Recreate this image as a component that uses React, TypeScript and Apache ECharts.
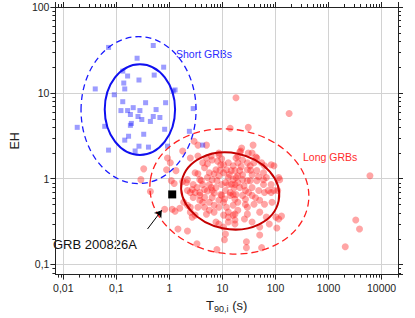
import React, { useEffect, useRef } from "react";
import * as echarts from "echarts";

// Tick labels (decimal comma, as in the reference)
const xTickLabels = ["0,01", "0,1", "1", "10", "100", "1000", "10000"]; // 10^-2 .. 10^4
const yTickLabels = ["0,1", "1", "10", "100"]; // 10^-1 .. 10^2

// Axis ranges (log axes)
const X_MIN = 0.0071;
const X_MAX = 20400;
const Y_MIN = 0.0762;
const Y_MAX = 100;

// Short GRBs: [T90,i (s), EH]
const shortGRBs: number[][] = [
  [0.0713, 33.8], [0.496, 35.6], [0.246, 25.3], [0.78, 19.9], [0.132, 17.9],
  [0.163, 15.7], [0.267, 14.1], [0.517, 16.1], [0.138, 13.0], [0.144, 11.1],
  [0.04, 11.1], [1.28, 10.8], [1.18, 10.5], [0.0914, 9.5], [0.132, 7.88],
  [0.356, 7.67], [0.848, 7.67], [0.208, 6.72], [0.122, 6.21], [0.163, 6.21],
  [0.278, 6.21], [0.561, 6.38], [0.184, 5.59], [0.256, 5.3], [0.496, 5.3],
  [0.662, 5.16], [0.302, 4.89], [0.438, 4.64], [0.192, 4.4], [0.184, 4.18],
  [2.81, 6.55], [0.0183, 3.96], [0.0604, 4.07], [0.814, 3.76], [2.38, 3.56],
  [0.328, 3.29], [0.17, 3.12], [0.144, 2.81], [0.267, 2.39], [0.403, 2.33],
  [0.0713, 2.15], [0.226, 2.1], [0.92, 2.39], [4.24, 2.46],
];

// Long GRBs: [T90,i (s), EH]
const longGRBs: number[][] = [
  [18.0, 8.76], [181, 5.74], [14.0, 3.86], [30.7, 3.96], [23.0, 2.27], [37.8, 2.46], [21.2, 2.04], [30.7, 1.99], [42.7, 1.79], [8.55, 1.99],
  [2.92, 2.73], [3.45, 2.46], [5.0, 2.46], [1.78, 2.1], [0.921, 1.74], [1.04, 1.53], [0.328, 1.3], [0.884, 1.27], [1.33, 1.24], [0.29, 0.974],
  [1.086, 0.948], [1.78, 0.924], [0.438, 0.709], [0.814, 0.44], [1.13, 0.44], [1.28, 0.418], [1.57, 0.452], [2.19, 0.49], [1.45, 0.259], [2.19, 0.246],
  [3.31, 0.174], [1.23, 0.877], [2.1, 0.9], [6040, 1.08], [3260, 0.329], [3840, 0.259], [2066, 0.161], [130, 0.366], [115, 0.338], [106, 0.266],
  [50.4, 0.221], [28.3, 0.184], [28.3, 0.157], [54.7, 0.157], [10.9, 0.194], [7.87, 0.149], [11.4, 0.227], [50.4, 0.273], [76.2, 0.296], [82.7, 1.45],
  [93.6, 1.41], [115, 1.03], [120, 0.974], [110, 0.728],
  [6.15, 1.84], [6.4, 1.65], [5.21, 1.49], [9.68, 1.7], [9.29, 1.45], [7.55, 1.27], [11.9, 1.27], [14.6, 1.24], [12.9, 1.03], [15.9, 0.974],
  [17.2, 0.853], [11.4, 0.9], [9.68, 0.853], [7.87, 0.948], [6.4, 0.974], [5.21, 1.03], [3.45, 1.14], [3.05, 1.17], [3.74, 0.974], [2.81, 0.853],
  [4.24, 0.853], [4.6, 0.748], [3.74, 0.69], [3.05, 0.69], [2.48, 0.69], [2.19, 0.728], [6.4, 0.728], [7.55, 0.788], [11.4, 0.728], [14.0, 0.69],
  [15.9, 0.655], [9.29, 0.655], [6.15, 0.788], [18.0, 1.74], [8.55, 1.89],
  [36.2, 1.99], [19.5, 1.82], [24.0, 1.65], [39.4, 1.53], [62.0, 1.41], [33.4, 1.41], [29.5, 1.27], [21.2, 1.24], [17.2, 1.24], [44.5, 1.24],
  [59.4, 1.17], [36.2, 1.11], [67.3, 1.03], [24.0, 0.974], [18.0, 1.03], [29.5, 0.948], [44.5, 0.948], [59.4, 0.853], [82.7, 0.853], [36.2, 0.788],
  [21.2, 0.788], [27.2, 0.728], [48.4, 0.728], [62.0, 0.69], [82.7, 0.69], [36.2, 0.638], [18.0, 0.655], [24.0, 0.638],
  [2.81, 0.605], [3.74, 0.638], [4.6, 0.605], [6.4, 0.605], [9.68, 0.638], [14.0, 0.638], [17.2, 0.574], [1.86, 0.53], [2.48, 0.464], [3.45, 0.464],
  [4.6, 0.464], [6.95, 0.49], [8.55, 0.464], [11.9, 0.464], [15.9, 0.49], [12.9, 0.407], [17.2, 0.386], [10.5, 0.376], [6.95, 0.407], [5.0, 0.386],
  [3.05, 0.376], [7.55, 0.312], [8.55, 0.296], [10.5, 0.273], [12.9, 0.312], [17.2, 0.329],
  [22.1, 2.1], [10.5, 1.45], [6.95, 1.14], [10.5, 1.17], [19.5, 1.08], [33.4, 0.948], [59.4, 0.974], [93.6, 0.728], [73.1, 0.728], [50.4, 0.559],
  [39.4, 0.503], [27.2, 0.574], [19.5, 0.429], [12.9, 0.356], [15.9, 0.376], [50.4, 0.407], [67.3, 0.356], [102, 0.356], [36.2, 0.312], [26.0, 0.338],
  [17.2, 0.296],
  [2.48, 1.74], [3.45, 1.84], [5.0, 1.74], [4.24, 1.53], [2.19, 0.974], [2.69, 0.356], [2.48, 0.407],
  [62.0, 0.503], [29.5, 0.464], [86.1, 0.53], [4.6, 1.34], [5.66, 1.17], [8.55, 1.08], [12.9, 0.853], [19.5, 0.9], [24.0, 1.11], [29.5, 1.53],
  [44.5, 1.74], [54.7, 1.53], [12.9, 1.53], [15.9, 1.41], [19.5, 1.53], [5.66, 0.853], [3.31, 0.788], [4.24, 0.53], [5.66, 0.53], [8.55, 0.559],
  [10.5, 0.53], [19.5, 0.53], [5.66, 0.429], [3.74, 0.559], [2.69, 0.748], [29.5, 0.386],
  [8.1, 1.6], [13.5, 1.12], [16.5, 0.78], [25.5, 0.82], [31.0, 0.69], [42.0, 0.6], [7.0, 0.68], [4.0, 0.95], [9.0, 1.25], [22.5, 1.38],
  [34.0, 1.25], [48.0, 1.05], [11.0, 0.58], [27.0, 0.5], [5.2, 0.72], [14.8, 0.86],
];

// GRB 200826A and its annotation arrow
const grb200826A: number[][] = [[1.13, 0.655]];
const arrowFrom = [0.387, 0.259];
const arrowTo = [0.719, 0.429];

// Confidence ellipses (in log space): centre, half-widths in decades, tilt
const ellipseT90 = [0.278, 0.262, 14.0, 13.5];
const ellipseEH = [6.38, 6.29, 0.718, 0.709];
const ellipseHalfWidthDex = [0.663, 1.084, 0.932, 1.505];
const ellipseHalfHeightDex = [0.529, 0.856, 0.443, 0.724];
const ellipseTiltRad = [0, 0, -0.2, -0.15];

const ellipseStroke = ["#1010f0", "#1a1aff", "#c40000", "#ff2020"];
const ellipseWidth = [2, 1.3, 2, 1.3];
const ellipseDash: (number[] | null)[] = [null, [6, 4], null, [7, 4]];

const FONT = '"Liberation Sans", Arial, Helvetica, sans-serif';
const AXIS_COLOR = "#222";

function minorValues(lo: number, hi: number): number[] {
  const out: number[] = [];
  for (let e = -4; e <= 5; e++) {
    for (let m = 2; m <= 9; m++) {
      const v = +(m * Math.pow(10, e)).toPrecision(3);
      if (v > lo && v < hi) out.push(v);
    }
  }
  return out;
}

function labelFor(list: string[], offset: number) {
  return (v: number) => {
    const e = Math.round(Math.log10(v));
    return list[e + offset] ?? "";
  };
}

export default function App() {
  const ref = useRef<HTMLDivElement>(null);

  useEffect(() => {
    if (!ref.current) return;
    const chart = echarts.init(ref.current, null, { renderer: "svg" });

    const xMinor = minorValues(X_MIN, X_MAX).map((v) => [v, 1]);
    const yMinor = minorValues(Y_MIN, Y_MAX).map((v) => [1, v]);

    const lineStyle = { color: AXIS_COLOR, width: 1 };

    const baseAxis = {
      type: "log" as const,
      logBase: 10,
      axisLine: { show: true, onZero: false, lineStyle },
      axisTick: { show: true, inside: false, length: 5, lineStyle },
      minorTick: { show: false },
      minorSplitLine: { show: false },
    };

    const option: any = {
      animation: false,
      backgroundColor: "#fff",
      grid: { left: 38, top: 7, right: 17, bottom: 40, containLabel: false },
      xAxis: [
        {
          ...baseAxis,
          position: "bottom",
          min: X_MIN,
          max: X_MAX,
          axisLabel: {
            formatter: labelFor(xTickLabels, 2),
            showMinLabel: false,
            showMaxLabel: false,
            fontSize: 10.5,
            fontFamily: FONT,
            color: AXIS_COLOR,
            margin: 8,
          },
          splitLine: { show: true, lineStyle: { color: "#d2d2d2", width: 1 } },
          name: "{a|T}{s|90,i}{a| (s)}",
          nameLocation: "middle",
          nameGap: 22,
          nameTextStyle: {
            rich: {
              a: { fontSize: 13, fontFamily: FONT, color: AXIS_COLOR },
              s: { fontSize: 9, fontFamily: FONT, color: AXIS_COLOR, padding: [7, 0, 0, 0] },
            },
          },
        },
        {
          ...baseAxis,
          position: "top",
          min: X_MIN,
          max: X_MAX,
          axisLabel: { show: false },
          splitLine: { show: false },
        },
      ],
      yAxis: [
        {
          ...baseAxis,
          position: "left",
          min: Y_MIN,
          max: Y_MAX,
          axisLabel: {
            formatter: labelFor(yTickLabels, 1),
            showMinLabel: false,
            showMaxLabel: true,
            fontSize: 10.5,
            fontFamily: FONT,
            color: AXIS_COLOR,
            margin: 6,
          },
          splitLine: { show: true, lineStyle: { color: "#d2d2d2", width: 1 } },
          name: "EH",
          nameLocation: "middle",
          nameRotate: 90,
          nameGap: 20,
          nameTextStyle: { fontSize: 12.5, fontFamily: FONT, color: AXIS_COLOR },
        },
        {
          ...baseAxis,
          position: "right",
          min: Y_MIN,
          max: Y_MAX,
          axisLabel: { show: false },
          splitLine: { show: false },
        },
      ],
      series: [
        {
          type: "custom",
          name: "xMinorTicks",
          coordinateSystem: "cartesian2d",
          xAxisIndex: 0,
          yAxisIndex: 0,
          silent: true,
          clip: false,
          z: 5,
          data: xMinor,
          renderItem: (params: any, api: any) => {
            const cs = params.coordSys;
            const px = Math.round(api.coord([api.value(0), 1])[0]) + 0.5;
            const bottom = cs.y + cs.height;
            const top = cs.y;
            const st = { stroke: AXIS_COLOR, lineWidth: 1 };
            return {
              type: "group",
              children: [
                { type: "line", shape: { x1: px, y1: bottom, x2: px, y2: bottom + 3 }, style: st },
                { type: "line", shape: { x1: px, y1: top, x2: px, y2: top - 3 }, style: st },
              ],
            };
          },
        },
        {
          type: "custom",
          name: "yMinorTicks",
          coordinateSystem: "cartesian2d",
          xAxisIndex: 0,
          yAxisIndex: 0,
          silent: true,
          clip: false,
          z: 5,
          data: yMinor,
          renderItem: (params: any, api: any) => {
            const cs = params.coordSys;
            const py = Math.round(api.coord([1, api.value(1)])[1]) + 0.5;
            const left = cs.x;
            const right = cs.x + cs.width;
            const st = { stroke: AXIS_COLOR, lineWidth: 1 };
            return {
              type: "group",
              children: [
                { type: "line", shape: { x1: left, y1: py, x2: left - 3, y2: py }, style: st },
                { type: "line", shape: { x1: right, y1: py, x2: right + 3, y2: py }, style: st },
              ],
            };
          },
        },
        {
          type: "scatter",
          name: "Long GRBs",
          data: longGRBs,
          symbol: "circle",
          symbolSize: 7,
          itemStyle: { color: "rgba(255,30,30,0.5)" },
          z: 2,
        },
        {
          type: "scatter",
          name: "Short GRBs",
          data: shortGRBs,
          symbol: "rect",
          symbolSize: 5,
          itemStyle: { color: "rgba(30,30,255,0.55)" },
          z: 2,
        },
        {
          type: "custom",
          name: "ellipses",
          coordinateSystem: "cartesian2d",
          silent: true,
          clip: false,
          z: 3,
          data: ellipseT90.map((t, i) => [t, ellipseEH[i]]),
          renderItem: (params: any, api: any) => {
            const i = params.dataIndex;
            const cx = api.value(0);
            const cy = api.value(1);
            const c = api.coord([cx, cy]);
            const rx = api.coord([cx * Math.pow(10, ellipseHalfWidthDex[i]), cy])[0] - c[0];
            const ry = c[1] - api.coord([cx, cy * Math.pow(10, ellipseHalfHeightDex[i])])[1];
            return {
              type: "ellipse",
              x: c[0],
              y: c[1],
              rotation: ellipseTiltRad[i],
              shape: { cx: 0, cy: 0, rx, ry },
              style: {
                fill: "none",
                stroke: ellipseStroke[i],
                lineWidth: ellipseWidth[i],
                lineDash: ellipseDash[i] || undefined,
              },
            };
          },
        },
        {
          type: "scatter",
          name: "GRB 200826A",
          data: grb200826A,
          symbol: "rect",
          symbolSize: 8,
          itemStyle: { color: "#000", opacity: 1 },
          z: 6,
          markLine: {
            silent: true,
            symbol: ["none", "arrow"],
            symbolSize: 7,
            label: { show: false },
            lineStyle: { color: "#000", width: 1, type: "solid", opacity: 1 },
            emphasis: { disabled: true },
            data: [[{ coord: arrowFrom }, { coord: arrowTo }]],
          },
        },
      ],
      graphic: [
        {
          type: "text",
          left: 176,
          top: 48,
          silent: true,
          style: { text: "Short GRBs", fontSize: 10.5, fontFamily: FONT, fill: "#2b2bff" },
        },
        {
          type: "text",
          left: 303,
          top: 151,
          silent: true,
          style: { text: "Long GRBs", fontSize: 10.5, fontFamily: FONT, fill: "#ff2b2b" },
        },
        {
          type: "text",
          left: 53,
          top: 238,
          silent: true,
          style: { text: "GRB 200826A", fontSize: 13, fontFamily: FONT, fill: "#111" },
        },
      ],
    };

    chart.setOption(option);
    return () => chart.dispose();
  }, []);

  return (
    <div
      ref={ref}
      style={{ position: "absolute", left: 0, top: 0, width: 415, height: 318, background: "#fff" }}
    />
  );
}
